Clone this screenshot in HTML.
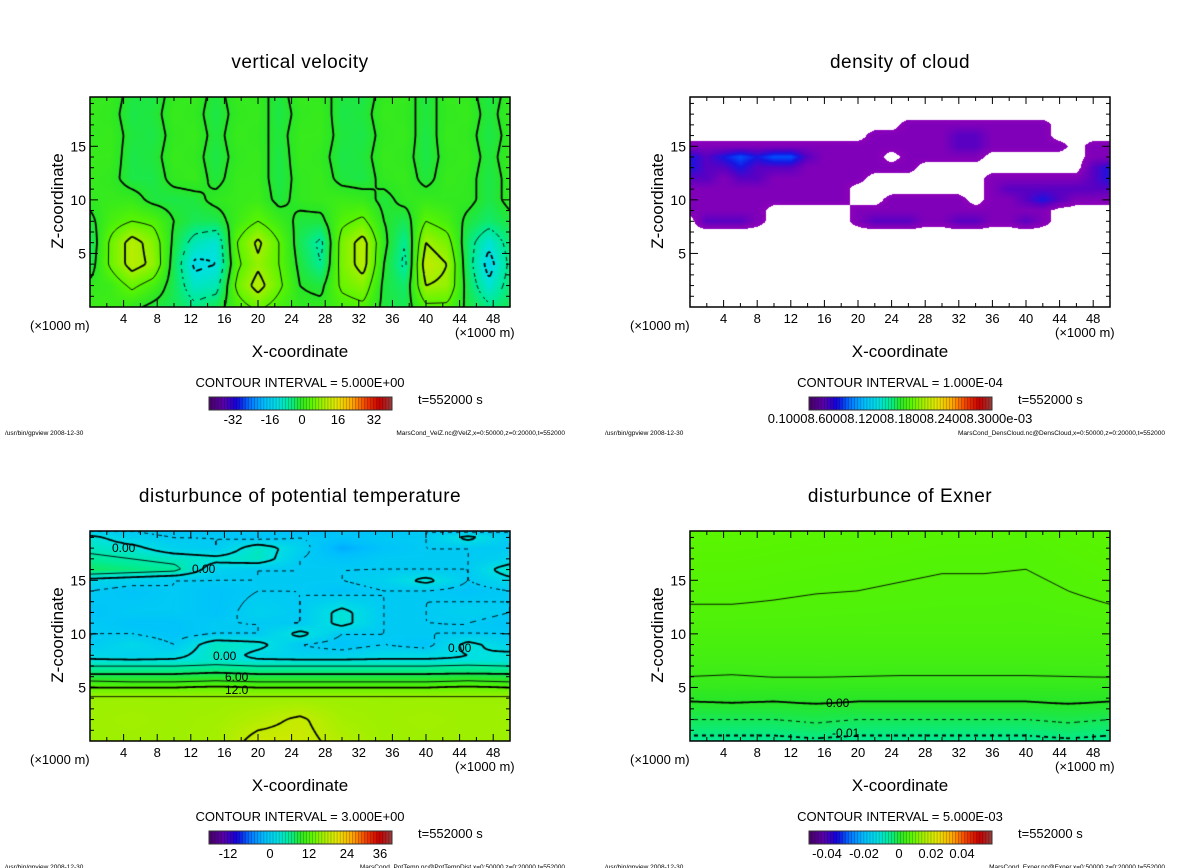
<!DOCTYPE html>
<html><head><meta charset="utf-8">
<style>
html,body{margin:0;padding:0;background:#fff;}
#wrap{position:relative;width:1200px;height:868px;overflow:hidden;background:#fff;}
canvas{position:absolute;}
svg{position:absolute;left:0;top:0;}
text{font-family:"Liberation Sans",sans-serif;fill:#000;}
</style></head>
<body>
<div id="wrap">
<canvas id="c1" width="420" height="210" style="left:90px;top:97px"></canvas>
<canvas id="c2" width="420" height="210" style="left:690px;top:97px"></canvas>
<canvas id="c3" width="420" height="210" style="left:90px;top:531px"></canvas>
<canvas id="c4" width="420" height="210" style="left:690px;top:531px"></canvas>
<svg id="ov" width="1200" height="868"></svg>
</div>
<script>
// ---------- data: vertical velocity (m/s) ----------
const wX = [0,2.5,5,7.5,10,12.5,15,17.5,20,22.5,25,27.5,30,32.5,35,37.5,40,42.5,45,47.5,50];
const wZ = [0,2,4,6,8,10,12,14,16,18,20];
const wVals = [
[2,2,1,-1,-2,-4,-2,3,6,3,1,1,3,4,-1,-2,4,4,-1,-4,-2],
[1,2,6,3,-2,-8,-7,6,12,6,0,-1,6,8,-1,-3,10,9,-2,-9,-3],
[-2,6,12,9,-2,-11,-10,4,9,5,-1,-5,7,12,0,-6,13,10,-3,-12,-4],
[-3,6,12,8,-1,-7,-9,5,11,5,-2,-6,7,12,1,-5,10,7,-3,-9,-3],
[-1,3,5,4,0,-2,-2,2,5,2,-1,-1,4,6,0,-2,5,3,-1,-3,-1],
[1,1.5,1.5,-1,-1.5,-1,1,1.5,2,-1,1,1.5,2,1.5,-1,1,1.5,1,1,-1.5,1],
[1.5,1,-1.5,-1.5,1,1.5,-1,1.5,1.5,-1.5,1,1.5,-1,-1.5,1,1.5,-1,1.5,1,-1.5,1],
[1.5,1.5,-1.5,-1,1.5,1,-1.5,1,1.5,-1.5,1.5,1,-1.5,-1,1.5,1,-1.5,1,1.5,-1,1.5],
[1,1.5,-1,-1.5,1,1.5,-1,1.5,1,-1,1.5,1.5,-1,-1.5,1,1.5,-1.5,1.5,1,-1.5,1],
[1.5,1,-1.5,-1,1.5,1,-1.5,1,1.5,-1.5,1,1.5,-1.5,-1,1.5,1,-1,1,1.5,-1,1.5],
[1,1.5,-1,-1.5,1,1.5,-1,1.5,1,-1,1.5,1,-1,-1.5,1,1.5,-1.5,1.5,1,-1.5,1]];
// ---------- data: cloud density (x1e-4) ----------
const cX = [0,2,4,6,8,10,12,14,16,18,20,22,24,26,28,30,32,34,36,38,40,42,44,46,48,50];
const cZ = [0,6,7,8,9,10,11,12,13,14,15,16,17,18,19.6];
const cVals = [
[0,0,0,0,0,0,0,0,0,0,0,0,0,0,0,0,0,0,0,0,0,0,0,0,0,0],
[0,0,0,0,0,0,0,0,0,0,0,0,0,0,0,0,0,0,0,0,0,0,0,0,0,0],
[0,0,0,0,0,0,0,0,0,0,0,0,0,0,0,0,0,0,0,0,0,0,0,0,0,0],
[0,2,2,2,1,0,0,0,0,0,1,2,2,2,1,1,2,2,1,1,2,1,0,0,0,0],
[1,1,1,1,1,0,0,0,0,0,1,1,1,1,1,1,1,1,1,1,1,1,0,0,0,0],
[1,1,1,1,1,1,1,1,1,1,0,0,1,1,1,1,1,0,1,1,2,3,2,1,1,1],
[1,1,1,1,1,1,1,1,1,1,0,0,0,0,0,0,0,0,1,2,2,2,2,2,2,2],
[2,2,1,2,2,1,1,1,1,1,1,0,0,0,0,0,0,0,1,1,1,1,1,1,2,3],
[3,2,2,3,2,2,2,1,1,1,1,1,1,1,0,0,0,0,0,0,0,0,0,0,2,3],
[3,2,3,4,3,4,4,2,1,1,1,1,0,1,1,1,1,1,0,0,0,0,0,0,1,1],
[1,1,1,1,1,1,1,1,1,1,1,1,1,1,1,1,2,2,1,1,1,1,1,0,1,1],
[0,0,0,0,0,0,0,0,0,0,0,1,1,1,1,1,2,2,1,1,1,1,0,0,0,0],
[0,0,0,0,0,0,0,0,0,0,0,0,0,1,1,1,1,1,1,1,1,1,0,0,0,0],
[0,0,0,0,0,0,0,0,0,0,0,0,0,0,0,0,0,0,0,0,0,0,0,0,0,0],
[0,0,0,0,0,0,0,0,0,0,0,0,0,0,0,0,0,0,0,0,0,0,0,0,0,0]];
// ---------- data: potential temperature disturbance (K) ----------
const tX = [0,5,10,15,20,25,30,35,40,45,50];
const tZ = [0,2,4,4.5,5,5.5,6,6.5,7,7.5,8,9,10,11,12,14,15,16,17,18,19,19.6];
const tVals = [
[15.5,15.5,15.5,16,19,19,17,15.5,15.5,15.5,15.5],
[15.5,15.8,15.5,15.8,17,18.5,16,15.5,15.8,15.5,15.5],
[15.4,15.4,15.4,15.4,15.4,15.4,15.4,15.4,15.4,15.4,15.4],
[14,14,14,14,14,14,14,14,14,14,14],
[12,12,12,12.5,12,12,12,12,12,12.5,12],
[9.5,9,9,9.5,9,9,9,9,9,9.5,9],
[7,7,7,7.5,7,7,7,7,7,7.5,7],
[5,5,5,5.5,5,5,5,5,5,5,5],
[3,3,3,3.5,3,3,3,3,3,3.5,3],
[0.5,0.5,0.5,1.5,0.5,0.5,0.5,0.5,0.5,0.5,0.5],
[-1,-2,-1,2,-1,-2,-2,-1,-1,0,1],
[-3,-1,-3,2,1,-3,-4,-3,-4,1,-2],
[-3,-3,-4,-3,-3,1,-3,-3,-3,-3,-3],
[-3,-4,-4,-3,-3,-3,1,-3,-3,-3,-4],
[-4,-3,-3,-4,-2,-3,1,-3,-3,-2,-3],
[-3,-4,-3,-4,-3,-3,-4,-3,-3,-4,-3],
[-1,-2,-3,-3,-3,-3,-3,-2,1,-3,-1],
[6,5,4,-2,-3,-3,-3,-3,-3,-3,2],
[4,3,2,1,2,-3,-4,-3,-3,-3,-2],
[2,1,-2,-3,2,-2,-6,-4,-3,-3,-3],
[1,-2,-3,-3,-4,-3,-4,-3,-3,1,-3],
[-3,-3,-4,-4,-3,-5,-4,-4,-3,-4,-3]];
// ---------- data: Exner disturbance ----------
const eX = [0,5,10,15,20,25,30,35,40,45,50];
const eZ = [0,0.5,1,2,3,3.5,4,5,6,8,10,12,14,16,18,19.6];
const eVals = [
[-.012,-.012,-.012,-.011,-.012,-.012,-.012,-.012,-.012,-.011,-.012],
[-.010,-.010,-.010,-.009,-.010,-.010,-.010,-.010,-.010,-.009,-.010],
[-.0085,-.0085,-.0085,-.007,-.0085,-.0085,-.0085,-.0085,-.0085,-.0072,-.0085],
[-.005,-.005,-.005,-.004,-.005,-.005,-.005,-.005,-.005,-.004,-.005],
[-.0015,-.0015,-.0015,-.0012,-.0015,-.0015,-.0015,-.0015,-.0015,-.0012,-.0015],
[-.0003,-.0001,-.0003,.0001,-.0003,-.0003,-.0003,-.0003,-.0003,.0001,-.0003],
[.0005,.0007,.0005,.0008,.0005,.0005,.0005,.0005,.0005,.0008,.0005],
[.003,.0032,.003,.003,.003,.0029,.0029,.0029,.0029,.003,.003],
[.0050,.0048,.0051,.0051,.0050,.0049,.0049,.0049,.0049,.0050,.0051],
[.0070,.0070,.0070,.0070,.0070,.0070,.0070,.0070,.0070,.0070,.0070],
[.0085,.0085,.0085,.0085,.0085,.0085,.0085,.0085,.0085,.0085,.0085],
[.0097,.0097,.0096,.0094,.0093,.0092,.0091,.0091,.0090,.0093,.0097],
[.0105,.0105,.0103,.0101,.0100,.0098,.0096,.0096,.0095,.0100,.0105],
[.0110,.0110,.0108,.0106,.0105,.0103,.0101,.0101,.0100,.0105,.0110],
[.0115,.0115,.0113,.0111,.0110,.0108,.0106,.0106,.0104,.0110,.0115],
[.0120,.0120,.0118,.0116,.0115,.0113,.0112,.0112,.0110,.0115,.0120]];
// ---------- axis tick labels ----------
const xTicks = [4,8,12,16,20,24,28,32,36,40,44,48];
const zTicks = [5,10,15];
const cb1Labels = ["-32","-16","0","16","32"];
const cb1Pos = [233,270,302,338,374];
const cb3Labels = ["-12","0","12","24","36"];
const cb3Pos = [228,270,309,347,380];
const cb4Labels = ["-0.04","-0.02","0","0.02","0.04"];
const cb4Pos = [227,264,299,331,362];

const W=420,H=210,XMAX=50,ZMAX=19.6;
const STOPS=[[0,[70,0,100]],[0.08,[90,0,170]],[0.15,[20,0,220]],[0.22,[0,110,255]],[0.3,[0,190,255]],[0.38,[0,225,225]],[0.44,[0,235,150]],[0.5,[40,230,40]],[0.56,[90,245,0]],[0.62,[160,240,0]],[0.7,[230,230,0]],[0.78,[255,170,0]],[0.86,[240,60,0]],[0.93,[200,0,0]],[1,[150,60,60]]];
function cmap(t){t=Math.max(0,Math.min(1,t));for(let i=0;i<STOPS.length-1;i++){const a=STOPS[i],b=STOPS[i+1];if(t<=b[0]){const f=(t-a[0])/(b[0]-a[0]);return [0,1,2].map(k=>Math.round(a[1][k]+f*(b[1][k]-a[1][k])));}}return STOPS[STOPS.length-1][1];}
const CSTOPS=[[0.5,[140,0,185]],[1,[128,0,185]],[2,[90,0,195]],[3,[25,20,225]],[4,[0,80,255]],[5,[0,200,255]]];
function ccmap(v){for(let i=0;i<CSTOPS.length-1;i++){const a=CSTOPS[i],b=CSTOPS[i+1];if(v<=b[0]){const f=(v-a[0])/(b[0]-a[0]);return [0,1,2].map(k=>Math.round(a[1][k]+f*(b[1][k]-a[1][k])));}}return CSTOPS[CSTOPS.length-1][1];}
function xScale(x){return x/XMAX*W;}
function zScale(z){return H-z/ZMAX*H;}
function idx(arr,v){for(let i=0;i<arr.length-1;i++){if(v<=arr[i+1])return i;}return arr.length-2;}
function interp(xs,zs,vals,x,z){const i=idx(xs,x),j=idx(zs,z);const fx=Math.max(0,Math.min(1,(x-xs[i])/(xs[i+1]-xs[i])));const fz=Math.max(0,Math.min(1,(z-zs[j])/(zs[j+1]-zs[j])));const a=vals[j][i],b=vals[j][i+1],c=vals[j+1][i],d=vals[j+1][i+1];return (a*(1-fx)+b*fx)*(1-fz)+(c*(1-fx)+d*fx)*fz;}
function render(id,xs,zs,vals,vmin,vmax,cloud,levels,thickSet,interval){
 const cv=document.getElementById(id),ctx=cv.getContext('2d');
 const img=ctx.createImageData(W,H);
 for(let py=0;py<H;py++)for(let px=0;px<W;px++){
  const x=(px+0.5)/W*XMAX,z=(H-py-0.5)/H*ZMAX;const v=interp(xs,zs,vals,x,z);
  let c;if(cloud){c=v<0.5?[255,255,255]:ccmap(v);}else c=cmap((v-vmin)/(vmax-vmin));
  const o=(py*W+px)*4;img.data[o]=c[0];img.data[o+1]=c[1];img.data[o+2]=c[2];img.data[o+3]=255;}
 ctx.putImageData(img,0,0);
 if(!levels)return;
 const s=2,nx=Math.floor(W/s)+1,nz=Math.floor(H/s)+1;const F=[];
 for(let j=0;j<nz;j++){F.push([]);for(let i=0;i<nx;i++){F[j].push(interp(xs,zs,vals,Math.min(XMAX,i*s/W*XMAX),Math.max(0,(H-j*s)/H*ZMAX)));}}
 ctx.strokeStyle='#000';
 levels.forEach((L0,li)=>{
  const L=L0+interval*1e-3;
  const thick=thickSet[li];const neg=L0<-1e-12;
  ctx.lineWidth=thick?1.8:0.9;ctx.beginPath();
  for(let j=0;j<nz-1;j++)for(let i=0;i<nx-1;i++){
   const p=[[i,j,F[j][i]],[i+1,j,F[j][i+1]],[i+1,j+1,F[j+1][i+1]],[i,j+1,F[j+1][i]]];const pts=[];
   for(let k=0;k<4;k++){const A=p[k],B=p[(k+1)%4];if((A[2]-L)*(B[2]-L)<0){const f=(L-A[2])/(B[2]-A[2]);pts.push([(A[0]+f*(B[0]-A[0]))*s,(A[1]+f*(B[1]-A[1]))*s]);}}
   for(let k=0;k+1<pts.length;k+=2){const mx=(pts[k][0]+pts[k+1][0])/2,my=(pts[k][1]+pts[k+1][1])/2;
    if(neg&&Math.floor((mx+my)/4)%2===1)continue;ctx.moveTo(pts[k][0],pts[k][1]);ctx.lineTo(pts[k+1][0],pts[k+1][1]);}
  }ctx.stroke();});
}
render('c1',wX,wZ,wVals,-41,41,false,[-10,-5,0,5,10],[1,0,1,0,1],5);
render('c2',cX,cZ,cVals,0,1,true,null,null,1);
render('c3',tX,tZ,tVals,-24,40,false,[-6,-3,0,3,6,9,12,15,18],[1,0,1,0,1,0,1,0,1],3);
render('c4',eX,eZ,eVals,-0.1,0.1,false,[-0.01,-0.005,0,0.005,0.01],[1,0,1,0,0],0.005);

const NS='http://www.w3.org/2000/svg';const ov=document.getElementById('ov');
function mk(tag,attrs,txt){const e=document.createElementNS(NS,tag);for(const k in attrs)e.setAttribute(k,attrs[k]);if(txt!==undefined)e.textContent=txt;ov.appendChild(e);return e;}
function panel(ox,oy,title,ci,cbLabels,cbPos,cbText,footer){
 const L=90+ox,T=97+oy;
 let e=mk('text',{x:300+ox,y:68+oy,'font-size':19,'text-anchor':'middle','letter-spacing':'0.5'},title);
 
 
 e=mk('rect',{x:L,y:T,width:W,height:H,fill:'none',stroke:'#000','stroke-width':1.5});
 
 
 for(let z=1;z<20;z++){const y=T+zScale(z);const len=(z%5===0)?8:4;
  mk('line',{x1:L,y1:y,x2:L+len,y2:y,stroke:'#000','stroke-width':1});
  mk('line',{x1:L+W,y1:y,x2:L+W-len,y2:y,stroke:'#000','stroke-width':1});}
 for(let x=2;x<50;x+=2){const px=L+xScale(x);const len=(x%4===0)?7:4;
  mk('line',{x1:px,y1:T,x2:px,y2:T+len,stroke:'#000','stroke-width':1});
  mk('line',{x1:px,y1:T+H,x2:px,y2:T+H-len,stroke:'#000','stroke-width':1});}
 xTicks.forEach(v=>{e=mk('text',{x:L+xScale(v),y:T+H+16,'font-size':13,'text-anchor':'middle'},String(v));
  
  });
 zTicks.forEach(v=>{e=mk('text',{x:L-4,y:T+zScale(v)+5,'font-size':14,'text-anchor':'end'},String(v));
  
  });
 e=mk('text',{x:30+ox,y:330+oy,'font-size':13},'(\u00d71000 m)');
 
 
 e=mk('text',{x:455+ox,y:337+oy,'font-size':13},'(\u00d71000 m)');
 
 
 e=mk('text',{x:300+ox,y:357+oy,'font-size':17,'text-anchor':'middle'},'X-coordinate');
 
 
 e=mk('text',{x:0,y:0,'font-size':17,'text-anchor':'middle',transform:`translate(${63+ox},${201+oy}) rotate(-90)`},'Z-coordinate');
 
 
 e=mk('text',{x:300+ox,y:387+oy,'font-size':13,'text-anchor':'middle'},'CONTOUR INTERVAL = '+ci);
 
 
 const bx=209+ox,by=397+oy,bw=183,bh=13,n=60;
 for(let i=0;i<n;i++){const c=cmap((i+0.5)/n);mk('rect',{x:bx+i*bw/n,y:by,width:bw/n+0.3,height:bh,fill:`rgb(${c[0]},${c[1]},${c[2]})`});
  mk('line',{x1:bx+i*bw/n,y1:by,x2:bx+i*bw/n,y2:by+bh,stroke:'rgba(0,0,0,0.35)','stroke-width':0.6});}
 e=mk('rect',{x:bx,y:by,width:bw,height:bh,fill:'none',stroke:'#333','stroke-width':1});
 
 
 if(cbText){e=mk('text',{x:300+ox,y:423+oy,'font-size':13,'text-anchor':'middle'},cbText);
  
  }
 else cbLabels.forEach((t,i)=>{e=mk('text',{x:cbPos[i]+ox,y:424+oy,'font-size':13,'text-anchor':'middle'},t);
  
  });
 e=mk('text',{x:418+ox,y:404+oy,'font-size':13,fill:'#444'},'t=552000 s');
 
 
 e=mk('text',{x:5+ox,y:435+oy,'font-size':6.5},'/usr/bin/gpview   2008-12-30');
 
 
 e=mk('text',{x:565+ox,y:435+oy,'font-size':6.5,'text-anchor':'end'},footer);
 
 
}
panel(0,0,'vertical velocity','5.000E+00',cb1Labels,cb1Pos,null,'MarsCond_VelZ.nc@VelZ,x=0:50000,z=0:20000,t=552000');
panel(600,0,'density of cloud','1.000E-04',null,null,'0.10008.60008.12008.18008.24008.3000e-03','MarsCond_DensCloud.nc@DensCloud,x=0:50000,z=0:20000,t=552000');
panel(0,434,'disturbunce of potential temperature','3.000E+00',cb3Labels,cb3Pos,null,'MarsCond_PotTemp.nc@PotTempDist,x=0:50000,z=0:20000,t=552000');
panel(600,434,'disturbunce of Exner','5.000E-03',cb4Labels,cb4Pos,null,'MarsCond_Exner.nc@Exner,x=0:50000,z=0:20000,t=552000');
// contour labels
const cl=[[112,552,'0.00'],[192,573,'0.00'],[213,660,'0.00'],[448,652,'0.00'],[225,681,'6.00'],[225,694,'12.0'],[826,707,'0.00'],[832,737,'-0.01']];
cl.forEach(a=>{const e=mk('text',{x:a[0],y:a[1],'font-size':12},a[2]);
 
 });
</script>
</body></html>
